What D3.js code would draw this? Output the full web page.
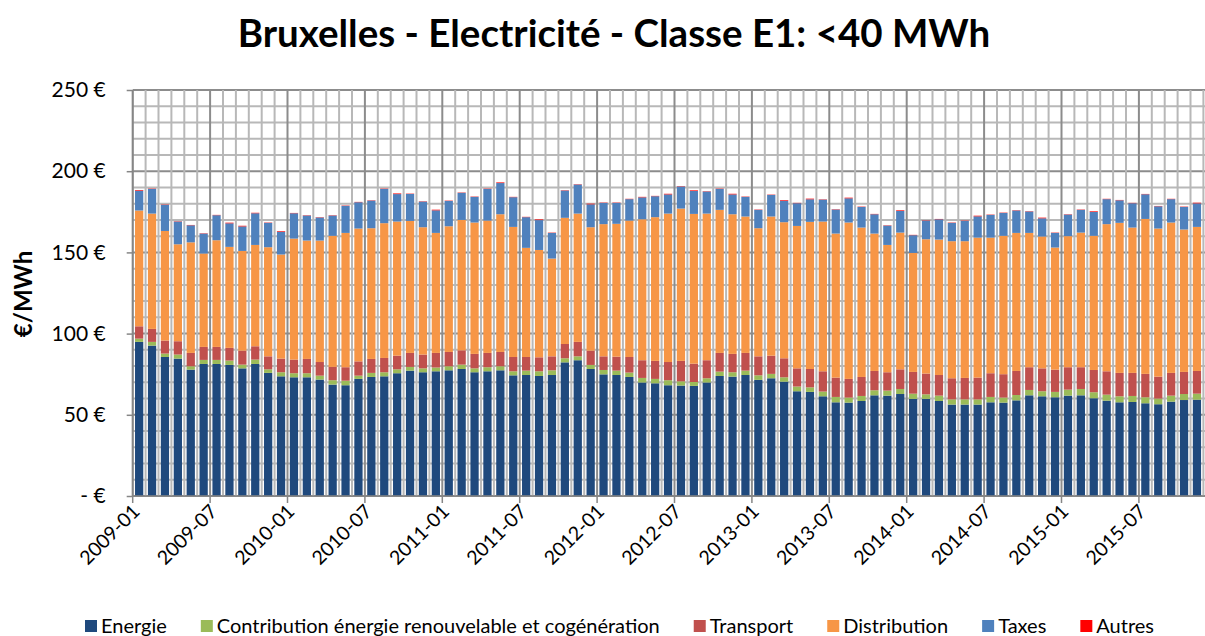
<!DOCTYPE html>
<html>
<head>
<meta charset="utf-8">
<script src="https://cdn.jsdelivr.net/npm/d3@7"></script>
<style>
  body { margin: 0; background: #fff; }
  svg { display: block; font-family: Lato, "Open Sans", sans-serif; }
</style>
</head>
<body>
<div id="chart"></div>
<script>
'use strict';

// months 2009-01 .. 2015-12
var months = [];
[2009, 2010, 2011, 2012, 2013, 2014, 2015].forEach(function (y) {
  for (var m = 1; m <= 12; m++) months.push(y + '-' + (m < 10 ? '0' + m : m));
});

var energie = [
  94.9, 92.6, 85.6, 84.6, 77.8, 81.3, 81.3, 80.7, 78.6, 81.3, 75.8, 73.7,
  73.1, 73.1, 71.7, 68.6, 68.2, 72.1, 73.3, 73.7, 75.6, 77.2, 76.2, 76.8,
  77.4, 78.2, 76.2, 76.8, 77.4, 74.3, 74.5, 73.9, 74.5, 82.3, 83.6, 78.2,
  74.9, 74.5, 73.3, 69.9, 69.4, 68.2, 68.0, 67.8, 69.9, 73.9, 73.5, 74.5,
  71.5, 72.5, 70.4, 64.5, 64.1, 61.4, 57.7, 57.5, 58.5, 62.0, 61.8, 62.8,
  59.8, 59.8, 58.5, 56.3, 56.3, 56.3, 57.7, 57.5, 58.9, 62.0, 61.4, 60.8,
  61.8, 62.0, 60.2, 58.7, 57.7, 57.9, 57.1, 56.5, 58.1, 59.1, 59.3, 57.7
];
var contribution = [
  2.0, 2.3, 2.1, 2.5, 2.1, 2.5, 2.5, 2.7, 2.3, 2.7, 2.2, 2.5,
  2.5, 2.5, 2.4, 2.7, 2.8, 2.0, 2.5, 2.5, 2.4, 2.3, 2.4, 2.3,
  2.5, 2.7, 2.4, 2.5, 2.5, 2.5, 2.7, 2.9, 2.9, 2.5, 2.4, 2.5,
  2.7, 2.7, 2.7, 2.8, 2.7, 3.1, 2.6, 2.4, 2.6, 2.7, 2.7, 2.7,
  2.8, 2.7, 2.7, 2.9, 2.8, 2.9, 3.3, 3.1, 3.1, 3.1, 3.1, 3.1,
  3.2, 2.8, 3.3, 3.2, 3.2, 3.2, 3.3, 3.1, 3.3, 3.3, 3.1, 3.3,
  3.7, 3.9, 3.7, 3.7, 3.7, 3.7, 3.7, 3.5, 3.7, 3.7, 3.7, 3.7
];
var transport = [
  7.6, 8.0, 8.0, 8.2, 8.2, 8.0, 8.0, 7.8, 8.6, 8.2, 8.0, 8.4,
  8.4, 8.8, 8.4, 8.2, 8.3, 8.8, 8.6, 8.8, 8.4, 8.6, 8.5, 9.0,
  8.8, 8.8, 8.9, 8.8, 8.8, 8.8, 8.4, 8.6, 8.6, 8.8, 8.9, 8.8,
  8.4, 8.6, 9.6, 10.9, 11.1, 11.2, 12.6, 11.3, 11.1, 11.5, 11.3, 10.9,
  11.7, 11.2, 11.7, 11.2, 11.3, 12.5, 11.9, 11.5, 11.7, 11.9, 11.3, 12.1,
  13.4, 12.8, 12.7, 13.0, 13.2, 13.4, 14.6, 14.4, 14.8, 14.0, 14.1, 13.7,
  13.8, 13.4, 13.7, 14.4, 14.4, 14.2, 14.4, 13.5, 14.0, 13.6, 14.0, 15.0
];
var distribution = [
  71.3, 71.0, 67.5, 59.7, 68.1, 57.5, 65.7, 62.2, 61.4, 62.4, 67.2, 64.1,
  74.5, 72.9, 74.8, 80.7, 82.7, 81.8, 80.5, 83.0, 82.6, 81.3, 78.4, 73.9,
  77.4, 80.3, 80.9, 81.5, 84.8, 80.1, 67.2, 66.1, 60.2, 77.7, 79.0, 76.0,
  81.4, 81.8, 84.0, 86.8, 88.5, 91.4, 93.8, 92.2, 90.3, 88.1, 86.0, 84.0,
  78.9, 85.7, 83.8, 87.7, 90.6, 92.2, 88.7, 96.3, 92.0, 84.6, 78.4, 84.2,
  73.3, 82.7, 83.4, 84.4, 84.2, 86.2, 83.5, 85.2, 85.0, 82.7, 81.2, 75.2,
  80.7, 82.9, 82.6, 90.6, 92.4, 89.5, 95.4, 91.2, 92.6, 87.7, 88.7, 81.5
];
var taxes = [
  12.2, 15.2, 16.1, 14.0, 10.5, 12.3, 15.4, 14.5, 15.1, 19.5, 15.0, 14.0,
  15.6, 15.4, 14.2, 12.5, 16.7, 16.2, 17.0, 21.1, 16.9, 16.6, 15.8, 13.9,
  15.6, 16.7, 15.8, 19.5, 19.2, 18.3, 18.9, 18.4, 15.8, 16.8, 17.9, 14.1,
  13.1, 12.9, 13.2, 13.5, 12.9, 11.8, 13.6, 14.1, 13.6, 12.9, 12.2, 12.1,
  11.3, 13.3, 13.2, 14.0, 13.9, 13.5, 14.8, 14.9, 12.7, 11.9, 11.9, 13.3,
  10.9, 11.5, 12.5, 11.3, 12.5, 13.1, 14.0, 14.1, 13.8, 13.2, 11.2, 9.0,
  13.3, 14.0, 14.7, 15.4, 13.9, 15.0, 15.2, 13.7, 14.4, 13.9, 14.5, 13.2
];
var autres = [
  0.4, 0.2, 0.2, 0.2, 0.2, 0.2, 0.2, 0.4, 0.4, 0.3, 0.2, 0.4,
  0.2, 0.2, 0.2, 0.2, 0.2, 0.2, 0.2, 0.2, 0.4, 0.2, 0.2, 0.4,
  0.2, 0.2, 0.2, 0.2, 0.4, 0.2, 0.2, 0.4, 0.2, 0.2, 0.2, 0.4,
  0.2, 0.2, 0.2, 0.3, 0.2, 0.4, 0.2, 0.4, 0.2, 0.2, 0.4, 0.2,
  0.2, 0.2, 0.4, 0.2, 0.4, 0.2, 0.2, 0.4, 0.2, 0.2, 0.2, 0.4,
  0.2, 0.2, 0.2, 0.2, 0.2, 0.4, 0.2, 0.2, 0.2, 0.2, 0.4, 0.2,
  0.2, 0.2, 0.4, 0.2, 0.2, 0.2, 0.2, 0.2, 0.2, 0.2, 0.4, 0.2
];

var seriesNames = ['Energie', 'Contribution énergie renouvelable et cogénération',
  'Transport', 'Distribution', 'Taxes', 'Autres'];
var seriesValues = [energie, contribution, transport, distribution, taxes, autres];
var seriesColors = ['#1f497d', '#9bbb59', '#c0504d', '#f79646', '#4f81bd', '#ff0000'];
var yTicks = [0, 50, 100, 150, 200, 250];

var W = 1205, H = 636
  , x0 = 132.7, step = 12.9
  , x1 = x0 + step * months.length
  , yTop = 90, yBottom = 496;

var rows = months.map(function (m, i) {
  var r = { month: m };
  seriesNames.forEach(function (s, k) { r[s] = seriesValues[k][i]; });
  return r;
});

var x = d3.scaleBand()
  .domain(months)
  .range([x0, x1])
  .paddingInner(0.36)
  .paddingOuter(0.18);

var y = d3.scaleLinear().domain([0, 250]).range([yBottom, yTop]);

var svg = d3.select('#chart').append('svg')
  .attr('width', W)
  .attr('height', H);

// title
svg.append('text')
  .attr('x', 614)
  .attr('y', 47)
  .attr('text-anchor', 'middle')
  .style('font-size', '38.5px')
  .style('font-weight', 'bold')
  .text('Bruxelles - Electricité - Classe E1: <40 MWh');

// grid: horizontal every 10, darker every 50
var grid = svg.append('g');
d3.range(0, 251, 10).forEach(function (v) {
  grid.append('line')
    .attr('x1', x0).attr('x2', x1)
    .attr('y1', y(v)).attr('y2', y(v))
    .attr('stroke', v % 50 === 0 ? '#8c8c8c' : '#b8b8b8')
    .attr('stroke-width', 2);
});
// vertical at every month boundary, darker every 6 months
d3.range(0, months.length + 1).forEach(function (k) {
  grid.append('line')
    .attr('x1', x0 + k * step).attr('x2', x0 + k * step)
    .attr('y1', yTop).attr('y2', yBottom)
    .attr('stroke', k % 6 === 0 ? '#8c8c8c' : '#b8b8b8')
    .attr('stroke-width', 2);
});

// stacked bars
var stack = d3.stack().keys(seriesNames);
var layers = stack(rows);

svg.append('g').selectAll('g')
  .data(layers)
  .enter().append('g')
    .attr('fill', function (d, i) { return seriesColors[i]; })
  .selectAll('rect')
    .data(function (d) { return d; })
  .enter().append('rect')
    .attr('x', function (d) { return x(d.data.month); })
    .attr('width', x.bandwidth())
    .attr('y', function (d) { return y(d[1]); })
    .attr('height', function (d) { return y(d[0]) - y(d[1]); });

// axes lines
svg.append('line')
  .attr('x1', x0).attr('x2', x0).attr('y1', yTop).attr('y2', yBottom)
  .attr('stroke', '#868686').attr('stroke-width', 1.5);
svg.append('line')
  .attr('x1', x0).attr('x2', x1).attr('y1', yBottom).attr('y2', yBottom)
  .attr('stroke', '#868686').attr('stroke-width', 1.5);

// y axis
var yAxis = svg.append('g')
  .attr('transform', 'translate(' + x0 + ',0)')
  .call(d3.axisLeft(y).tickValues(yTicks).tickSize(6)
    .tickFormat(function (d) { return d === 0 ? '- €' : d + ' €'; }));
yAxis.select('.domain').remove();
yAxis.selectAll('line').attr('stroke', '#868686').attr('stroke-width', 1.5);
yAxis.selectAll('text')
  .attr('x', -27)
  .style('font-size', '21px')
  .style('font-family', 'Lato, "Open Sans", sans-serif')
  .attr('fill', '#000');

svg.append('text')
  .attr('transform', 'translate(32,294) rotate(-90)')
  .attr('text-anchor', 'middle')
  .style('font-size', '24px')
  .style('font-weight', 'bold')
  .text('€/MWh');

// x axis: ticks every 6 months at category boundaries
var labelMonths = months.filter(function (m, i) { return i % 6 === 0; });
svg.append('g').selectAll('line')
  .data(labelMonths)
  .enter().append('line')
    .attr('x1', function (d) { return x(d) - x.step() * x.paddingInner() / 2; })
    .attr('x2', function (d) { return x(d) - x.step() * x.paddingInner() / 2; })
    .attr('y1', yBottom).attr('y2', yBottom + 7)
    .attr('stroke', '#868686').attr('stroke-width', 1.5);

svg.append('g').selectAll('text')
  .data(labelMonths)
  .enter().append('text')
    .attr('transform', function (d) {
      return 'translate(' + (x(d) + x.bandwidth() / 2 - 3) + ',' + (yBottom + 12) + ') rotate(-45)';
    })
    .attr('text-anchor', 'end')
    .attr('dy', '0.35em')
    .style('font-size', '19.5px')
    .text(function (d) { return d; });

// legend
var legend = svg.append('g').attr('transform', 'translate(0,626)');
var lx = 85;
seriesNames.forEach(function (s, i) {
  legend.append('rect')
    .attr('x', lx).attr('y', -6)
    .attr('width', 12).attr('height', 12)
    .attr('fill', seriesColors[i]);
  var t = legend.append('text')
    .attr('x', lx + 16)
    .attr('dy', '0.35em')
    .style('font-size', '20px')
    .text(s);
  lx += 16 + t.node().getComputedTextLength() + 34;
});
</script>
</body>
</html>
